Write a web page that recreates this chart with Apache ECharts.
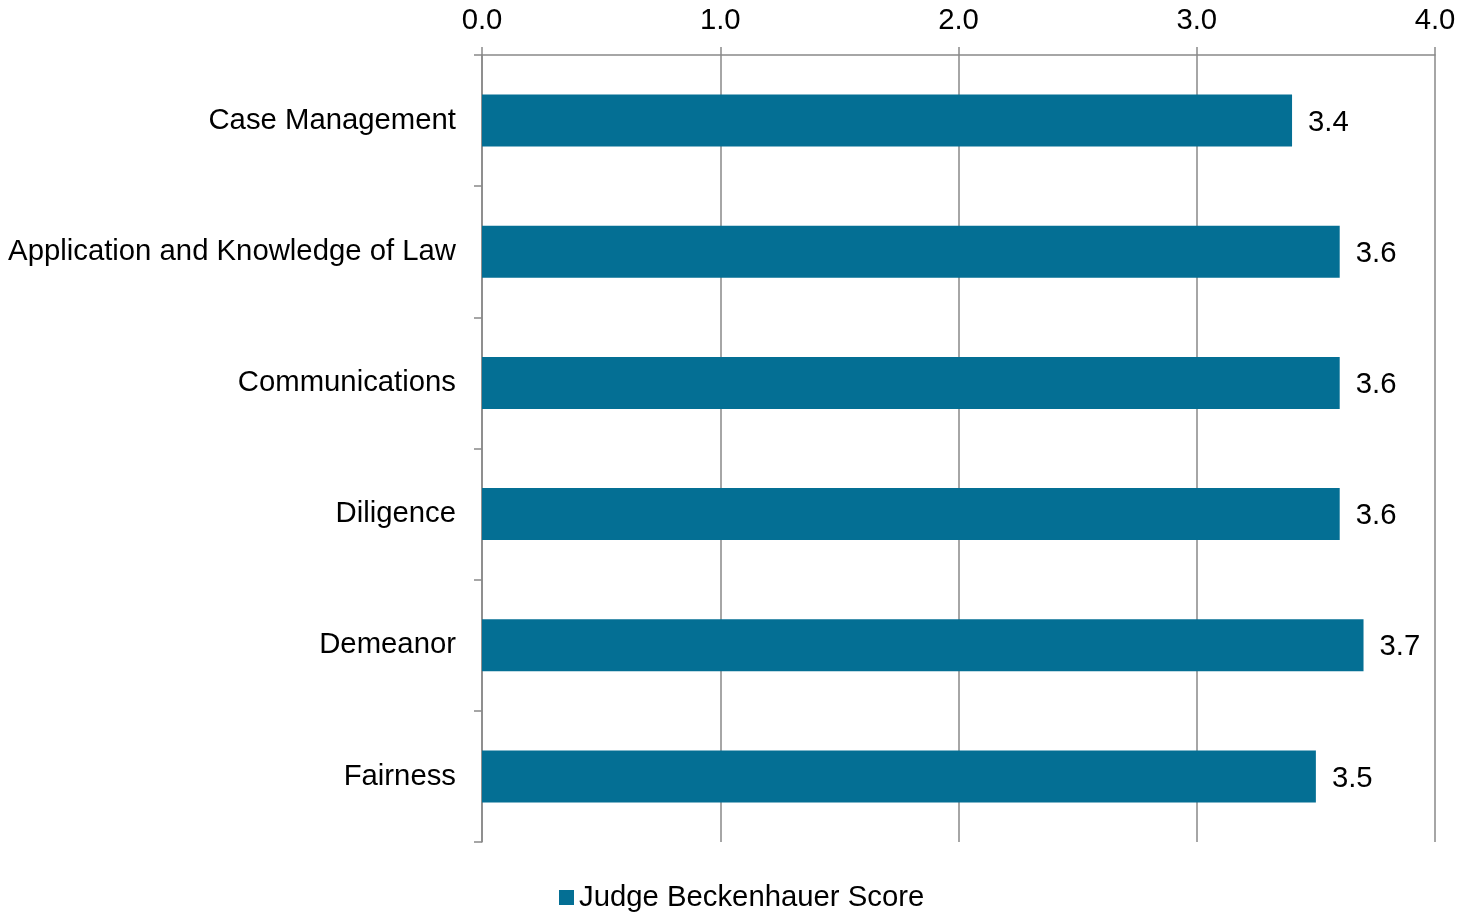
<!DOCTYPE html>
<html>
<head>
<meta charset="utf-8">
<title>Judge Beckenhauer Score</title>
<script src="https://cdn.jsdelivr.net/npm/echarts@6/dist/echarts.min.js"></script>
<style>
    html, body { margin: 0; padding: 0; background: #fff; }
    #chart { width: 1473px; height: 913px; }
</style>
</head>
<body>
<div id="chart"></div>
<script>
// 数据
var categories = ['Case Management', 'Application and Knowledge of Law', 'Communications', 'Diligence', 'Demeanor', 'Fairness'];
var scores = [3.4, 3.6, 3.6, 3.6, 3.7, 3.5];
var seriesName = 'Judge Beckenhauer Score';

var lineColor = '#898989';
var barColor = '#046f94';
var fontFamily = '"Liberation Sans", Arial, sans-serif';
var fontSize = 29.3;

var chart = echarts.init(document.getElementById('chart'));
var option = {
    animation: false,
    textStyle: { fontFamily: fontFamily },
    grid: { left: 482, right: 38, top: 55, bottom: 71, containLabel: false },
    legend: {
        data: [seriesName],
        bottom: -4,
        left: 554,
        itemWidth: 15,
        itemHeight: 15,
        itemGap: 6,
        icon: 'rect',
        textStyle: { fontSize: fontSize, color: '#000', fontFamily: fontFamily }
    },
    xAxis: {
        type: 'value',
        position: 'top',
        min: 0,
        max: 4,
        interval: 1,
        axisLine: { show: true, lineStyle: { color: lineColor, width: 1.5 } },
        axisTick: { show: true, length: 8, lineStyle: { color: lineColor, width: 1.5 } },
        splitLine: { show: true, lineStyle: { color: lineColor, width: 1.5 } },
        axisLabel: {
            margin: 20,
            fontSize: fontSize,
            color: '#000',
            formatter: function (v) { return v.toFixed(1); }
        }
    },
    yAxis: {
        type: 'category',
        data: categories,
        inverse: true,
        axisLine: { show: true, lineStyle: { color: lineColor, width: 1.5 } },
        axisTick: { show: true, length: 8, lineStyle: { color: lineColor, width: 1.5 } },
        axisLabel: { margin: 26, fontSize: fontSize, color: '#000', padding: [8, 0, 0, 0] }
    },
    series: [{
        name: seriesName,
        type: 'bar',
        data: scores,
        barWidth: 52,
        itemStyle: { color: barColor },
        label: {
            show: true,
            position: 'right',
            distance: 16,
            offset: [0, 2],
            fontSize: fontSize,
            color: '#000',
            formatter: function (p) { return p.value.toFixed(1); }
        }
    }]
};
chart.setOption(option);
</script>
</body>
</html>
